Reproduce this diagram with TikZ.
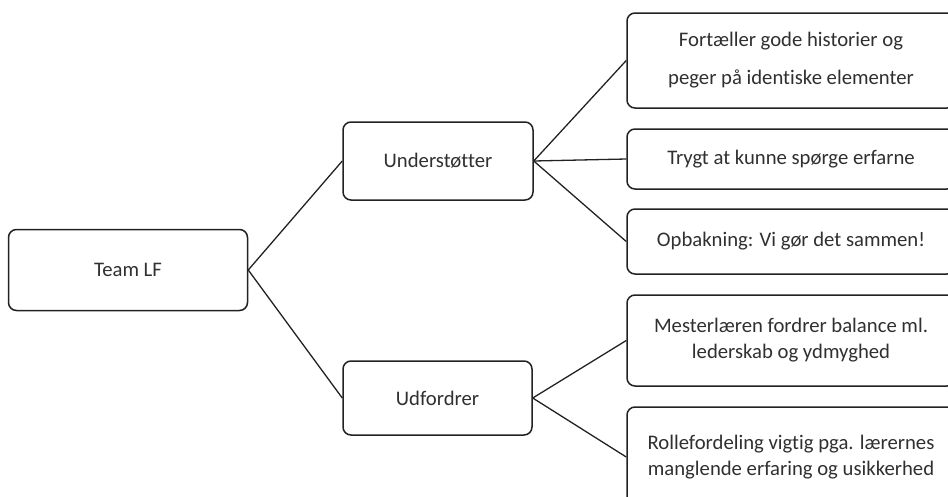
\documentclass[tikz,border=0pt]{standalone}
\usepackage{fontspec}
\setmainfont[Ligatures=NoCommon]{Carlito}
\definecolor{edge}{HTML}{222222}
\definecolor{txt}{HTML}{303030}
\begin{document}
\begin{tikzpicture}[x=1pt,y=-1pt,
  box/.style={draw=edge,line width=1.5pt,rounded corners=8pt,fill=white,
    text=txt,align=center,inner sep=0pt,
    font=\fontsize{20.7}{26}\selectfont},
  link/.style={draw=edge,line width=1.3pt}]
\useasboundingbox (0,0) rectangle (948,496);
\clip (0,0) rectangle (948,496);
\node[box,minimum width=239pt,minimum height=81pt] (team) at (128,270) {Team LF};
\node[box,minimum width=190pt,minimum height=78pt] (und) at (438,161) {Understøtter};
\node[box,minimum width=189pt,minimum height=74pt] (udf) at (437.5,398) {Udfordrer};
\node[box,minimum width=328pt,minimum height=95pt] (b1) at (791,60.5) {Fortæller gode historier og\\[12pt]peger på identiske elementer};
\node[box,minimum width=328pt,minimum height=60pt] (b2) at (791,159) {Trygt at kunne spørge erfarne};
\node[box,minimum width=328pt,minimum height=65pt] (b3) at (791,241.5) {Opbakning: Vi gør det sammen!};
\node[box,minimum width=328pt,minimum height=91pt] (b4) at (791,340.5) {Mesterlæren fordrer balance ml.\\lederskab og ydmyghed};
\node[box,minimum width=328pt,minimum height=100pt] (b5) at (791,457) {Rollefordeling vigtig pga. lærernes\\manglende erfaring og usikkerhed};
\draw[link] (team.east) -- (und.west);
\draw[link] (team.east) -- (udf.west);
\draw[link] (und.east) -- (b1.west);
\draw[link] (und.east) -- (b2.west);
\draw[link] (und.east) -- (b3.west);
\draw[link] (udf.east) -- (b4.west);
\draw[link] (udf.east) -- (b5.west);
\end{tikzpicture}
\end{document}
